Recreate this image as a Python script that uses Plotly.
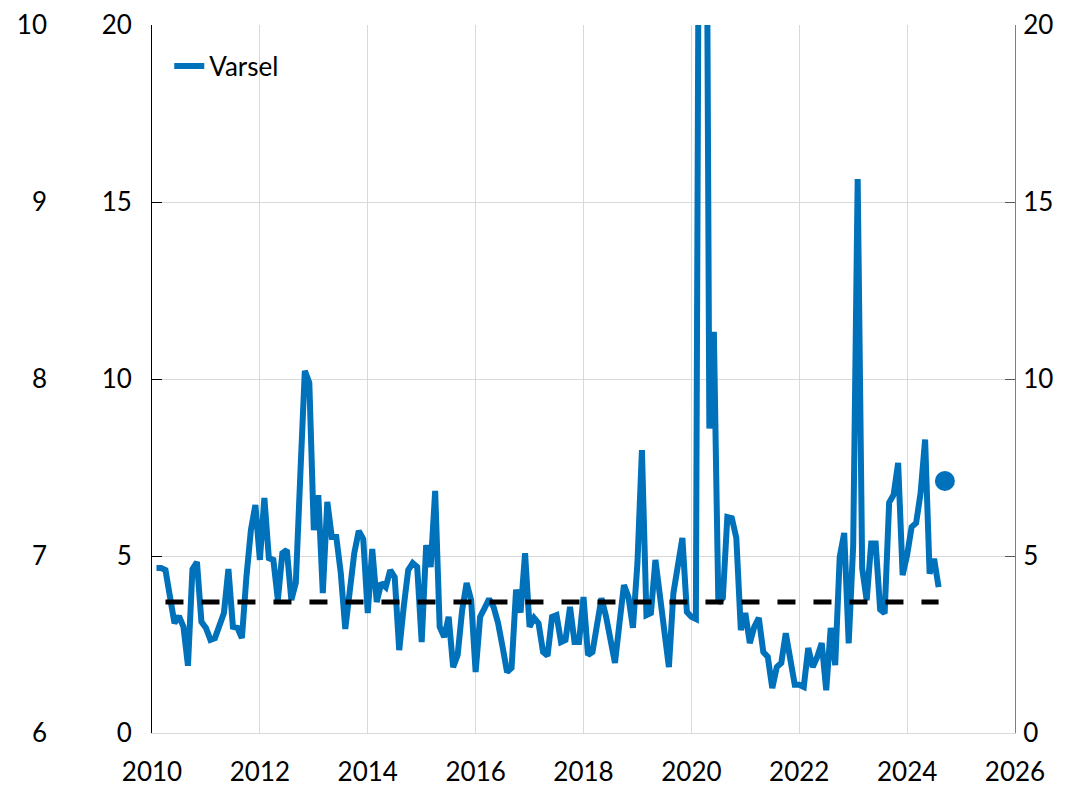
import plotly.graph_objects as go

# Monthly values, Feb 2010 - Aug 2024
varsel = [
    4.66, 4.66, 4.60, 3.70, 3.10, 3.30, 3.00, 1.90, 4.63, 4.83,
    3.14, 2.97, 2.63, 2.68, 3.10, 3.39, 4.63, 3.00, 2.97, 2.68,
    4.40, 5.73, 6.44, 4.89, 6.64, 4.94, 4.89, 3.76, 5.08, 5.17,
    3.76, 4.24, 7.30, 10.23, 9.89, 5.73, 6.72, 3.95, 6.53, 5.54,
    5.54, 4.52, 2.94, 3.95, 5.08, 5.71, 5.48, 3.39, 5.20, 3.70,
    4.24, 4.12, 4.60, 4.40, 2.34, 3.56, 4.60, 4.80, 4.69, 2.57,
    5.31, 4.69, 6.84, 3.00, 2.71, 3.28, 1.86, 2.20, 3.47, 4.24,
    3.76, 1.72, 3.28, 3.53, 3.79, 3.56, 3.10, 2.43, 1.72, 1.84,
    4.05, 3.40, 5.08, 3.00, 3.25, 3.10, 2.29, 2.18, 3.28, 3.33,
    2.57, 2.63, 3.56, 2.57, 2.57, 3.84, 2.20, 2.29, 3.00, 3.81,
    3.30, 2.71, 1.98, 3.10, 4.18, 3.84, 2.97, 4.80, 7.99, 3.33,
    3.39, 4.89, 3.76, 2.82, 1.86, 3.95, 4.70, 5.51, 3.42, 3.28,
    3.22, 35.0, 35.0, 8.60, 11.33, 3.67, 3.81, 6.10, 6.07, 5.51,
    2.91, 3.39, 2.54, 3.00, 3.25, 2.29, 2.15, 1.27, 1.86, 1.98,
    2.82, 1.98, 1.36, 1.36, 1.30, 2.40, 1.86, 2.15, 2.54, 1.21,
    2.97, 1.92, 4.97, 5.65, 2.53, 5.29, 15.65, 4.65, 3.75, 5.35,
    5.35, 3.49, 3.38, 6.51, 6.73, 7.63, 4.46, 5.03, 5.82, 5.93,
    6.78, 8.29, 4.50, 4.92, 4.12,
]
start_year = 2010
start_month = 2
t = [start_year + (start_month - 1 + i) / 12 for i in range(len(varsel))]

snitt = 3.7
siste_x = [2024.7]
siste_y = [7.12]

x_ticks = list(range(2010, 2027, 2))
y_ticks = [0, 5, 10, 15, 20]
y_outer_ticks = [6, 7, 8, 9, 10]

BLUE = "#0071BB"
FONT = "Lato, Carlito, Calibri, sans-serif"
GRID = "#d9d9d9"

fig = go.Figure()
fig.add_trace(go.Scatter(x=t, y=varsel, mode="lines", name="Varsel",
                         line=dict(color=BLUE, width=6), hoverinfo="skip"))
fig.add_trace(go.Scatter(x=[t[2], t[-1]], y=[snitt, snitt], mode="lines",
                         line=dict(color="black", width=5, dash="18px,18px"),
                         showlegend=False, hoverinfo="skip"))
fig.add_trace(go.Scatter(x=siste_x, y=siste_y, mode="markers",
                         marker=dict(color=BLUE, size=20),
                         showlegend=False, hoverinfo="skip"))
# invisible helpers so the extra axes are drawn
fig.add_trace(go.Scatter(x=[t[0]], y=[None], yaxis="y2", mode="lines",
                         showlegend=False, hoverinfo="skip"))
fig.add_trace(go.Scatter(x=[t[0]], y=[None], yaxis="y3", mode="lines",
                         showlegend=False, hoverinfo="skip"))

fig.update_layout(
    width=1068, height=786,
    margin=dict(l=152, r=53, t=25, b=53, autoexpand=False),
    paper_bgcolor="white", plot_bgcolor="white",
    font=dict(family=FONT, size=26, color="black"),
    showlegend=True,
    legend=dict(x=0.02, y=0.975, xanchor="left", yanchor="top",
                bgcolor="rgba(0,0,0,0)", font=dict(size=26), itemwidth=30),
    xaxis=dict(range=[2010, 2026], tickvals=x_ticks, ticktext=[str(v) for v in x_ticks],
               showgrid=True, gridcolor=GRID, gridwidth=1,
               showline=True, linecolor=GRID, linewidth=1,
               ticks="", zeroline=False, ticklabelstandoff=16, automargin=False),
    yaxis=dict(range=[0, 20], tickvals=y_ticks, showgrid=True, gridcolor=GRID,
               showline=True, linecolor="black", linewidth=1,
               ticks="inside", ticklen=10, tickcolor="black",
               zeroline=False, ticklabelstandoff=14, automargin=False),
    yaxis2=dict(range=[0, 20], tickvals=y_ticks, overlaying="y", side="right",
                showgrid=False, showline=True, linecolor="#7f7f7f", linewidth=1,
                ticks="inside", ticklen=10, tickcolor="#595959",
                zeroline=False, ticklabelstandoff=2, automargin=False),
    yaxis3=dict(range=[6, 10], tickvals=y_outer_ticks, overlaying="y", side="left",
                showgrid=False, showline=False, ticks="", zeroline=False,
                ticklabelstandoff=104, automargin=False),
)

fig.write_html("out.html",
               config={"displayModeBar": False, "staticPlot": True},
               post_script="document.body.style.margin='0';document.body.style.overflow='hidden';")
